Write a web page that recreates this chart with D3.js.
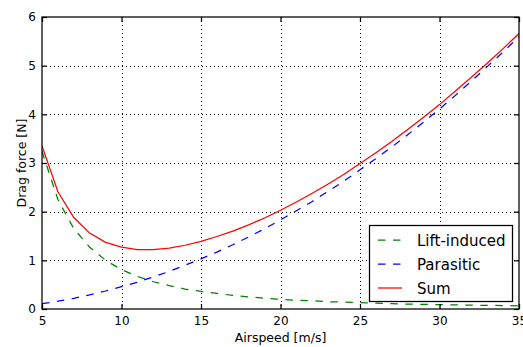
<!DOCTYPE html>
<html>
<head>
<meta charset="utf-8">
<script src="https://cdn.jsdelivr.net/npm/d3@7"></script>
<style>
  body { margin: 0; background: #fff; }
  text { font-family: "DejaVu Sans", sans-serif; fill: #000; }
</style>
</head>
<body>
<script>
// airspeed in m/s, drag forces in N
var airspeed = [5, 6, 7, 8, 9, 10, 11, 12, 13, 14, 15, 16, 17, 18, 19, 20,
  21, 22, 23, 24, 25, 26, 27, 28, 29, 30, 31, 32, 33, 34, 35];
var liftInduced = [3.24, 2.25, 1.65, 1.27, 1.00, 0.81, 0.67, 0.56, 0.48, 0.41, 0.36,
  0.32, 0.28, 0.25, 0.22, 0.20, 0.18, 0.17, 0.15, 0.14, 0.13, 0.12, 0.11, 0.10,
  0.096, 0.09, 0.084, 0.079, 0.074, 0.07, 0.066];
var parasitic = [0.11, 0.16, 0.22, 0.29, 0.37, 0.46, 0.55, 0.66, 0.77, 0.90, 1.03,
  1.17, 1.32, 1.48, 1.65, 1.83, 2.02, 2.21, 2.42, 2.63, 2.86, 3.09, 3.33, 3.58,
  3.84, 4.11, 4.39, 4.68, 4.98, 5.28, 5.60];
var sum = [3.35, 2.41, 1.88, 1.56, 1.37, 1.27, 1.22, 1.22, 1.25, 1.31, 1.39,
  1.49, 1.60, 1.73, 1.87, 2.03, 2.20, 2.38, 2.57, 2.77, 2.99, 3.21, 3.44, 3.69,
  3.94, 4.20, 4.48, 4.76, 5.05, 5.35, 5.66];
var xTicks = [5, 10, 15, 20, 25, 30, 35];
var yTicks = [0, 1, 2, 3, 4, 5, 6];

var series = [
  { name: 'Lift-induced', values: liftInduced, color: '#008000', dash: '7.5,7.5' },
  { name: 'Parasitic', values: parasitic, color: '#0000ff', dash: '7.5,7.5' },
  { name: 'Sum', values: sum, color: '#ff0000', dash: null }
];

var width = 523, height = 347;
var pLeft = 42, pRight = 519, pTop = 17, pBottom = 309;

var svg = d3.select('body').append('svg')
  .attr('width', width)
  .attr('height', height);

var x = d3.scaleLinear().domain([5, 35]).range([pLeft, pRight]);
var y = d3.scaleLinear().domain([0, 6]).range([pBottom, pTop]);

svg.append('defs').append('clipPath').attr('id', 'plot')
  .append('rect')
  .attr('x', pLeft).attr('y', pTop)
  .attr('width', pRight - pLeft).attr('height', pBottom - pTop);

// grid
var grid = svg.append('g');
grid.selectAll('.gx').data(xTicks.slice(1, -1)).enter().append('line')
  .attr('x1', function(d) { return Math.round(x(d)) + 0.5; })
  .attr('x2', function(d) { return Math.round(x(d)) + 0.5; })
  .attr('y1', pTop).attr('y2', pBottom)
  .attr('stroke', '#000').attr('stroke-width', 1)
  .attr('stroke-dasharray', '1,3');
grid.selectAll('.gy').data(yTicks.slice(1, -1)).enter().append('line')
  .attr('y1', function(d) { return Math.round(y(d)) + 0.5; })
  .attr('y2', function(d) { return Math.round(y(d)) + 0.5; })
  .attr('x1', pLeft).attr('x2', pRight)
  .attr('stroke', '#000').attr('stroke-width', 1)
  .attr('stroke-dasharray', '1,3');

// lines
var line = d3.line()
  .x(function(d, i) { return x(airspeed[i]); })
  .y(function(d) { return y(d); });

svg.append('g').attr('clip-path', 'url(#plot)')
  .selectAll('path').data(series).enter().append('path')
  .attr('d', function(s) { return line(s.values); })
  .attr('fill', 'none')
  .attr('stroke', function(s) { return s.color; })
  .attr('stroke-width', 1.25)
  .attr('stroke-dasharray', function(s) { return s.dash; });

// axes (ticks inside, on all four sides)
var xAxis = d3.axisBottom(x).tickValues(xTicks).tickSizeInner(-5).tickSizeOuter(0).tickPadding(7);
var yAxis = d3.axisLeft(y).tickValues(yTicks).tickFormat(d3.format('d'))
  .tickSizeInner(-5).tickSizeOuter(0).tickPadding(6);

var gx = svg.append('g').attr('transform', 'translate(0,' + pBottom + ')').call(xAxis);
var gy = svg.append('g').attr('transform', 'translate(' + pLeft + ',0)').call(yAxis);
var gx2 = svg.append('g').attr('transform', 'translate(0,' + pTop + ')')
  .call(d3.axisTop(x).tickValues(xTicks).tickSizeInner(-5).tickSizeOuter(0).tickFormat(''));
var gy2 = svg.append('g').attr('transform', 'translate(' + pRight + ',0)')
  .call(d3.axisRight(y).tickValues(yTicks).tickSizeInner(-5).tickSizeOuter(0).tickFormat(''));

[gx, gy, gx2, gy2].forEach(function(g) {
  g.select('.domain').remove();
  g.selectAll('line').attr('stroke', '#000').attr('stroke-width', 1.25);
  g.selectAll('text').attr('font-size', 12).attr('font-family', '"DejaVu Sans", sans-serif');
});

svg.append('rect')
  .attr('x', pLeft).attr('y', pTop)
  .attr('width', pRight - pLeft).attr('height', pBottom - pTop)
  .attr('fill', 'none').attr('stroke', '#000').attr('stroke-width', 1.25);

// axis labels
svg.append('text')
  .attr('x', (pLeft + pRight) / 2).attr('y', 342)
  .attr('text-anchor', 'middle').attr('font-size', 12.5)
  .text('Airspeed [m/s]');
svg.append('text')
  .attr('transform', 'translate(26,' + ((pTop + pBottom) / 2) + ') rotate(-90)')
  .attr('text-anchor', 'middle').attr('font-size', 12.5)
  .text('Drag force [N]');

// legend
var legend = svg.append('g');
legend.append('rect')
  .attr('x', 369.5).attr('y', 225.5)
  .attr('width', 143).attr('height', 76)
  .attr('fill', '#fff').attr('stroke', '#000').attr('stroke-width', 1.25);

var items = legend.selectAll('.item').data(series).enter().append('g')
  .attr('transform', function(s, i) { return 'translate(0,' + (240 + i * 24) + ')'; });
items.append('line')
  .attr('x1', 378).attr('x2', 402)
  .attr('y1', 0).attr('y2', 0)
  .attr('stroke', function(s) { return s.color; })
  .attr('stroke-width', 1.25)
  .attr('stroke-dasharray', function(s) { return s.dash; });
items.append('text')
  .attr('x', 417).attr('y', 5.5)
  .attr('font-size', 15)
  .text(function(s) { return s.name; });
</script>
</body>
</html>
